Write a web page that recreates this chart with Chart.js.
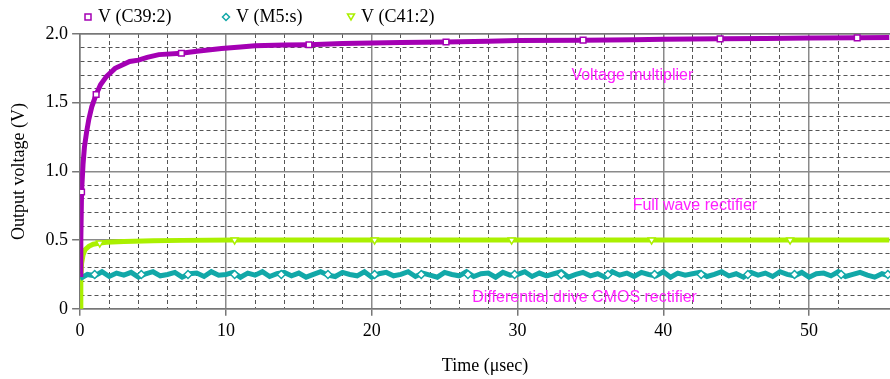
<!DOCTYPE html>
<html>
	<head>
		<title>Output voltage</title>
        <meta charset="UTF-8">
        <script src="https://cdn.jsdelivr.net/npm/chart.js@4.4.0/dist/chart.umd.min.js"></script>
        <style>
            html, body { margin: 0; padding: 0; background: #fff; }
            #wrap { width: 890px; height: 379px; }
        </style>
	</head>
	<body>
        <div id="wrap"><canvas id="line-chart" width="890" height="379"></canvas></div>

		<script>
            // series labels
            const seriesLabels = ['V (C39:2)', 'V (M5:s)', 'V (C41:2)'];
            const seriesColors = ['#a400b4', '#12a8a8', '#aaf000'];

            // voltage multiplier, V (C39:2)
            const purpleT = [0, 0.05, 0.1, 0.2, 0.3, 0.45, 0.6, 0.8, 1.1, 1.4, 1.8, 2.4, 3.0, 3.4, 4.0, 4.6, 5.4, 6.95, 8, 9.7, 11, 12, 14, 15.7, 18, 20, 22, 25.1, 28, 30, 34.5, 38, 40, 43.9, 47, 50, 53.3, 55.5];
            const purpleV = [0.25, 0.5, 0.85, 1.05, 1.18, 1.29, 1.38, 1.47, 1.56, 1.63, 1.69, 1.75, 1.78, 1.80, 1.81, 1.83, 1.85, 1.86, 1.875, 1.895, 1.905, 1.915, 1.92, 1.922, 1.93, 1.935, 1.938, 1.942, 1.948, 1.952, 1.955, 1.958, 1.962, 1.965, 1.967, 1.97, 1.972, 1.975];
            const purpleMarkT = [0.1, 1.1, 6.95, 15.7, 25.1, 34.5, 43.9, 53.3];
            const purpleMarkV = [0.85, 1.56, 1.86, 1.922, 1.942, 1.955, 1.965, 1.972];

            // differential drive CMOS rectifier, V (M5:s), sampled every 0.5 usec
            const tealStep = 0.5;
            const tealV = [
                0.22, 0.25, 0.24, 0.27, 0.235, 0.26, 0.245, 0.265, 0.23, 0.255,
                0.27, 0.24, 0.25, 0.265, 0.23, 0.255, 0.26, 0.235, 0.27, 0.245,
                0.25, 0.265, 0.23, 0.26, 0.245, 0.27, 0.235, 0.255, 0.265, 0.24,
                0.26, 0.23, 0.25, 0.27, 0.245, 0.235, 0.265, 0.25, 0.24, 0.27,
                0.23, 0.255, 0.265, 0.24, 0.25, 0.27, 0.235, 0.26, 0.245, 0.23,
                0.265, 0.25, 0.24, 0.27, 0.235, 0.255, 0.26, 0.23, 0.265, 0.245,
                0.25, 0.27, 0.235, 0.26, 0.24, 0.255, 0.27, 0.23, 0.25, 0.265,
                0.24, 0.255, 0.23, 0.27, 0.245, 0.26, 0.235, 0.265, 0.25, 0.24,
                0.27, 0.23, 0.26, 0.245, 0.255, 0.265, 0.235, 0.25, 0.27, 0.24,
                0.255, 0.23, 0.265, 0.245, 0.26, 0.235, 0.27, 0.25, 0.24, 0.265,
                0.23, 0.255, 0.26, 0.24, 0.27, 0.235, 0.25, 0.265, 0.245, 0.23, 0.255, 0.24
            ];
            const tealMarkT = [1.0, 4.2, 7.4, 10.6, 13.8, 17.0, 20.2, 23.4, 26.6, 29.8, 33.0, 36.2, 39.4, 42.6, 45.8, 49.0, 52.2, 55.4];
            const tealMarkV = [0.25, 0.25, 0.25, 0.25, 0.25, 0.25, 0.25, 0.25, 0.25, 0.25, 0.25, 0.25, 0.25, 0.25, 0.25, 0.25, 0.25, 0.25];

            // full wave rectifier, V (C41:2)
            const greenT = [0, 0.05, 0.1, 0.2, 0.34, 0.6, 0.9, 1.35, 1.8, 3, 5, 7, 10.6, 20.2, 29.6, 39.2, 48.7, 55.5];
            const greenV = [0, 0.2, 0.33, 0.39, 0.43, 0.455, 0.47, 0.478, 0.485, 0.49, 0.495, 0.498, 0.5, 0.5, 0.5, 0.5, 0.5, 0.5];
            const greenMarkT = [1.35, 10.6, 20.2, 29.6, 39.2, 48.7];
            const greenMarkV = [0.478, 0.5, 0.5, 0.5, 0.5, 0.5];

            // text labels inside the plot
            const noteTexts = ['Voltage multiplier', 'Full wave rectifier', 'Differential drive CMOS rectifier'];
            const noteT = [33.7, 37.9, 26.9];
            const noteV = [1.695, 0.75, 0.08];

            const xMax = 55.55;

            function pts(t, v) {
                return t.map((x, i) => ({x: x, y: v[i]}));
            }
            const tealData = tealV.map((y, i) => ({x: i * tealStep, y: y}));

            const serif = 'Liberation Serif';
            const major = (v, step) => Math.abs(v / step - Math.round(v / step)) < 1e-6;

            const notesPlugin = {
                id: 'notes',
                afterDatasetsDraw(chart) {
                    const ctx = chart.ctx, xs = chart.scales.x, ys = chart.scales.y;
                    ctx.save();
                    ctx.font = '16px "Liberation Sans"';
                    ctx.fillStyle = '#ff20ff';
                    ctx.textAlign = 'left';
                    ctx.textBaseline = 'middle';
                    noteTexts.forEach((s, i) => {
                        ctx.fillText(s, xs.getPixelForValue(noteT[i]), ys.getPixelForValue(noteV[i]));
                    });
                    ctx.restore();
                }
            };

            // legend drawn on the top band
            const legendPlugin = {
                id: 'refLegend',
                afterDraw(chart) {
                    const ctx = chart.ctx;
                    const xs = [88, 226, 351];
                    const y = 17;
                    ctx.save();
                    ctx.lineWidth = 1.5;
                    seriesLabels.forEach((s, i) => {
                        ctx.strokeStyle = seriesColors[i];
                        ctx.beginPath();
                        if (i === 0) {
                            ctx.rect(xs[i] - 3, y - 3, 6, 6);
                        } else if (i === 1) {
                            ctx.moveTo(xs[i], y - 3.5); ctx.lineTo(xs[i] + 3.5, y);
                            ctx.lineTo(xs[i], y + 3.5); ctx.lineTo(xs[i] - 3.5, y); ctx.closePath();
                        } else {
                            ctx.moveTo(xs[i] - 3.5, y - 3); ctx.lineTo(xs[i] + 3.5, y - 3);
                            ctx.lineTo(xs[i], y + 3); ctx.closePath();
                        }
                        ctx.stroke();
                        ctx.fillStyle = '#000';
                        ctx.font = '18px "' + serif + '"';
                        ctx.textBaseline = 'middle';
                        ctx.fillText(s, xs[i] + 10, y);
                    });
                    ctx.restore();
                }
            };

            function lineSet(data, color) {
                return {
                    data: data, borderColor: color, borderWidth: 5, pointRadius: 0,
                    fill: false, tension: 0, order: 2
                };
            }
            function markSet(data, color, style, rot) {
                return {
                    data: data, showLine: false, pointStyle: style, rotation: rot || 0,
                    pointRadius: 4, pointBorderWidth: 1.5, pointBorderColor: color,
                    pointBackgroundColor: '#fff', order: 0
                };
            }

            new Chart(document.getElementById('line-chart'), {
                type: 'line',
                data: {
                    datasets: [
                        lineSet(pts(purpleT, purpleV), seriesColors[0]),
                        lineSet(tealData, seriesColors[1]),
                        lineSet(pts(greenT, greenV), seriesColors[2]),
                        markSet(pts(purpleMarkT, purpleMarkV), seriesColors[0], 'rect'),
                        markSet(pts(tealMarkT, tealMarkV), seriesColors[1], 'rectRot'),
                        markSet(pts(greenMarkT, greenMarkV), seriesColors[2], 'triangle', 180)
                    ]
                },
                options: {
                    responsive: false,
                    animation: false,
                    layout: { autoPadding: false, padding: { top: 34, left: 6, right: 0, bottom: 2 } },
                    plugins: {
                        legend: { display: false },
                        tooltip: { enabled: false }
                    },
                    scales: {
                        x: {
                            type: 'linear', min: 0, max: xMax,
                            afterFit: s => { s.paddingRight = 0; },
                            ticks: {
                                stepSize: 2, autoSkip: false, maxRotation: 0, padding: 5,
                                color: '#000', font: { family: serif, size: 18 },
                                callback: v => major(v, 10) ? String(v) : ''
                            },
                            grid: {
                                color: c => c.tick && major(c.tick.value, 10) ? '#8a8a8a' : '#555',
                                lineWidth: c => c.tick && major(c.tick.value, 10) ? 1.5 : 1,
                                tickColor: c => c.tick && major(c.tick.value, 10) ? '#777' : 'rgba(0,0,0,0)',
                                tickLength: 7
                            },
                            border: {
                                color: '#777', width: 1.5,
                                dash: c => c.tick && !major(c.tick.value, 10) ? [4, 3] : []
                            },
                            title: {
                                display: true, text: 'Time (\u03bcsec)', color: '#000',
                                font: { family: serif, size: 18 }, padding: { top: 8, bottom: 0 }
                            }
                        },
                        xTop: {
                            type: 'linear', position: 'top', min: 0, max: xMax,
                            afterFit: s => { s.paddingRight = 0; },
                            ticks: { display: false },
                            grid: { drawOnChartArea: false, drawTicks: false },
                            border: { color: '#777', width: 1.5 }
                        },
                        y: {
                            min: 0, max: 2,
                            ticks: {
                                stepSize: 0.1, autoSkip: false, padding: 4,
                                color: '#000', font: { family: serif, size: 18 },
                                callback: v => major(v, 0.5) ? (v === 0 ? '0' : v.toFixed(1)) : ''
                            },
                            grid: {
                                color: c => c.tick && major(c.tick.value, 0.5) ? '#8a8a8a' : '#555',
                                lineWidth: c => c.tick && major(c.tick.value, 0.5) ? 1.5 : 1,
                                tickColor: c => c.tick && major(c.tick.value, 0.5) ? '#777' : 'rgba(0,0,0,0)',
                                tickLength: 8
                            },
                            border: {
                                color: '#777', width: 1.5,
                                dash: c => c.tick && !major(c.tick.value, 0.5) ? [4, 3] : []
                            },
                            title: {
                                display: true, text: 'Output voltage (V)', color: '#000',
                                font: { family: serif, size: 18 }, padding: { top: 2, bottom: 12 }
                            }
                        }
                    }
                },
                plugins: [notesPlugin, legendPlugin]
            });
		</script>

	</body>
</html>
